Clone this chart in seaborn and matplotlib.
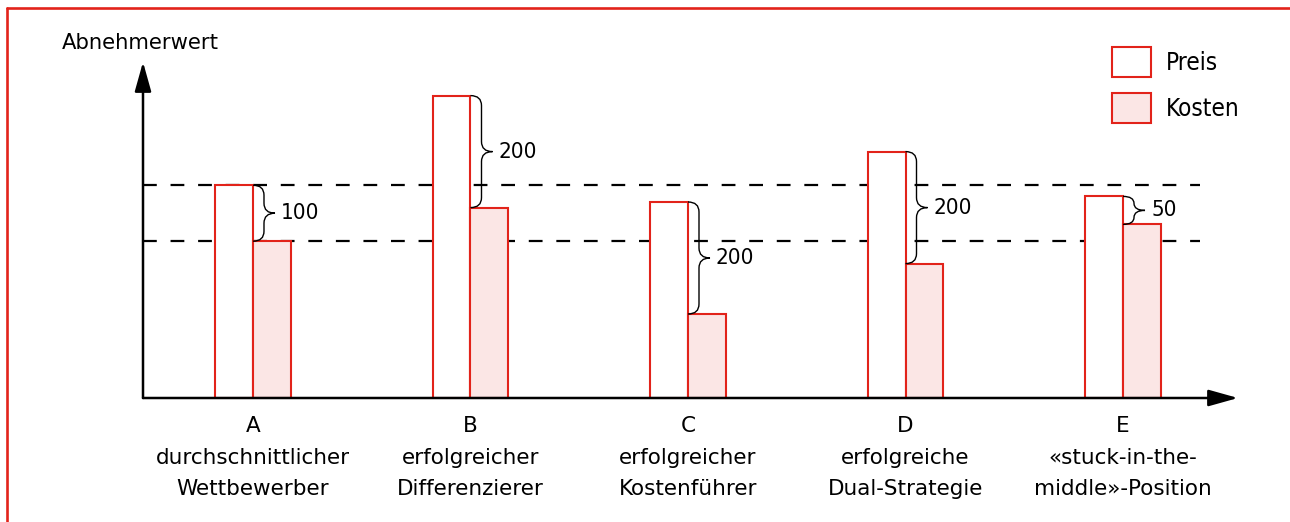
import matplotlib
matplotlib.use("Agg")
import matplotlib.pyplot as plt
from matplotlib.path import Path
from matplotlib.patches import PathPatch
from matplotlib.lines import Line2D
from matplotlib.transforms import IdentityTransform
import pandas as pd
import seaborn as sns

# --- data -------------------------------------------------------------
positions = ["A", "B", "C", "D", "E"]
position_names = [
    "durchschnittlicher\nWettbewerber",
    "erfolgreicher\nDifferenzierer",
    "erfolgreicher\nKostenführer",
    "erfolgreiche\nDual-Strategie",
    "«stuck-in-the-\nmiddle»-Position",
]
preis = [380, 540, 350, 440, 360]
kosten = [280, 340, 150, 240, 310]
margins = [100, 200, 200, 200, 50]
series_names = ["Preis", "Kosten"]
y_label = "Abnehmerwert"

# --- style ------------------------------------------------------------
RED = "#e2231a"
PINK = "#fbe6e5"
sns.set_style("white")
plt.rcParams["font.family"] = ["DejaVu Sans"]
plt.rcParams["text.color"] = "black"
plt.rcParams["xtick.color"] = "black"
plt.rcParams["xtick.labelcolor"] = "black"

df = pd.DataFrame({
    "Position": positions * 2,
    "Serie": [series_names[0]] * len(positions) + [series_names[1]] * len(positions),
    "Wert": preis + kosten,
})

fig = plt.figure(figsize=(12.9, 5.22), dpi=100)
W, H = 1290, 522
ax = fig.add_axes([143 / W, 124 / H, 1095 / W, 336 / H])

sns.barplot(
    data=df, x="Position", y="Wert", hue="Serie", hue_order=series_names,
    palette={series_names[0]: "white", series_names[1]: PINK},
    edgecolor=RED, linewidth=1.5, width=0.345, gap=0, saturation=1,
    ax=ax, zorder=3,
)
if ax.get_legend() is not None:
    ax.get_legend().remove()

ax.set_xlim(-0.5057, 4.5287)
ax.set_ylim(0, 600)
for s in ax.spines.values():
    s.set_visible(False)
ax.set_yticks([])
ax.set_xlabel("")
ax.set_ylabel("")
ax.set_xticks(range(len(positions)))
ax.set_xticklabels([f"{p}\n{n}" for p, n in zip(positions, position_names)],
                   fontsize=15.5, linespacing=1.72, color="black")
ax.tick_params(axis="x", length=0, pad=13)

# reference levels of the average competitor
ax.hlines([preis[0], kosten[0]], -0.5057, 4.354, colors="black",
          linewidth=1.6, linestyles=(0, (6.2, 6.2)), zorder=1)

# axes with arrow heads
arrow = dict(arrowstyle="-|>,head_length=1.0,head_width=0.28", color="black",
             lw=1.8, mutation_scale=18, shrinkA=0, shrinkB=0)
ax.annotate("", xy=(1, 0), xytext=(0, 0), xycoords="axes fraction",
            arrowprops=arrow, zorder=5)
ax.annotate("", xy=(0, 1), xytext=(0, 0), xycoords="axes fraction",
            arrowprops=arrow, zorder=5)

fig.text(62 / W, 1 - 43 / H, y_label, fontsize=15.2, ha="left", va="center",
         color="black")


def brace(x_edge, y_top, y_bot, label):
    x0, yt = ax.transData.transform((x_edge, y_top))
    _, yb = ax.transData.transform((x_edge, y_bot))
    ym = (yt + yb) / 2
    w1, w2 = 11, 22
    r = min(10, (yt - yb) / 4)
    verts = [
        (x0, yt), (x0 + w1, yt), (x0 + w1, yt - r),
        (x0 + w1, ym + r),
        (x0 + w1, ym), (x0 + w2, ym),
        (x0 + w1, ym), (x0 + w1, ym - r),
        (x0 + w1, yb + r),
        (x0 + w1, yb), (x0, yb),
    ]
    codes = [Path.MOVETO, Path.CURVE3, Path.CURVE3,
             Path.LINETO,
             Path.CURVE3, Path.CURVE3,
             Path.CURVE3, Path.CURVE3,
             Path.LINETO,
             Path.CURVE3, Path.CURVE3]
    ax.add_patch(PathPatch(Path(verts, codes), transform=IdentityTransform(),
                           fill=False, edgecolor="black", lw=1.0,
                           clip_on=False, zorder=4))
    ax.text(x0 + 28, ym, label, transform=IdentityTransform(),
            fontsize=16, fontstretch="condensed", color="black",
            ha="left", va="center")


for i, (p, k, m) in enumerate(zip(preis, kosten, margins)):
    brace(i, p, k, str(m))

# legend
handles = [ax.containers[0].patches[0], ax.containers[1].patches[0]]
leg = ax.legend(handles, series_names, loc="upper left",
                bbox_to_anchor=(1112 / W, 1 - 47 / H),
                bbox_transform=fig.transFigure,
                frameon=False, borderpad=0, borderaxespad=0,
                handlelength=1.6, handleheight=1.52, labelspacing=0.66,
                handletextpad=0.62,
                prop={"size": 17.5, "stretch": "condensed"})
for t in leg.get_texts():
    t.set_color("black")

# red frame (top and left)
fig.add_artist(Line2D([7 / W, 1], [1 - 7.5 / H, 1 - 7.5 / H],
                      transform=fig.transFigure, color=RED, lw=1.9))
fig.add_artist(Line2D([7 / W, 7 / W], [0, 1 - 7.5 / H],
                      transform=fig.transFigure, color=RED, lw=1.9))

fig.savefig("out.png", dpi=100)
